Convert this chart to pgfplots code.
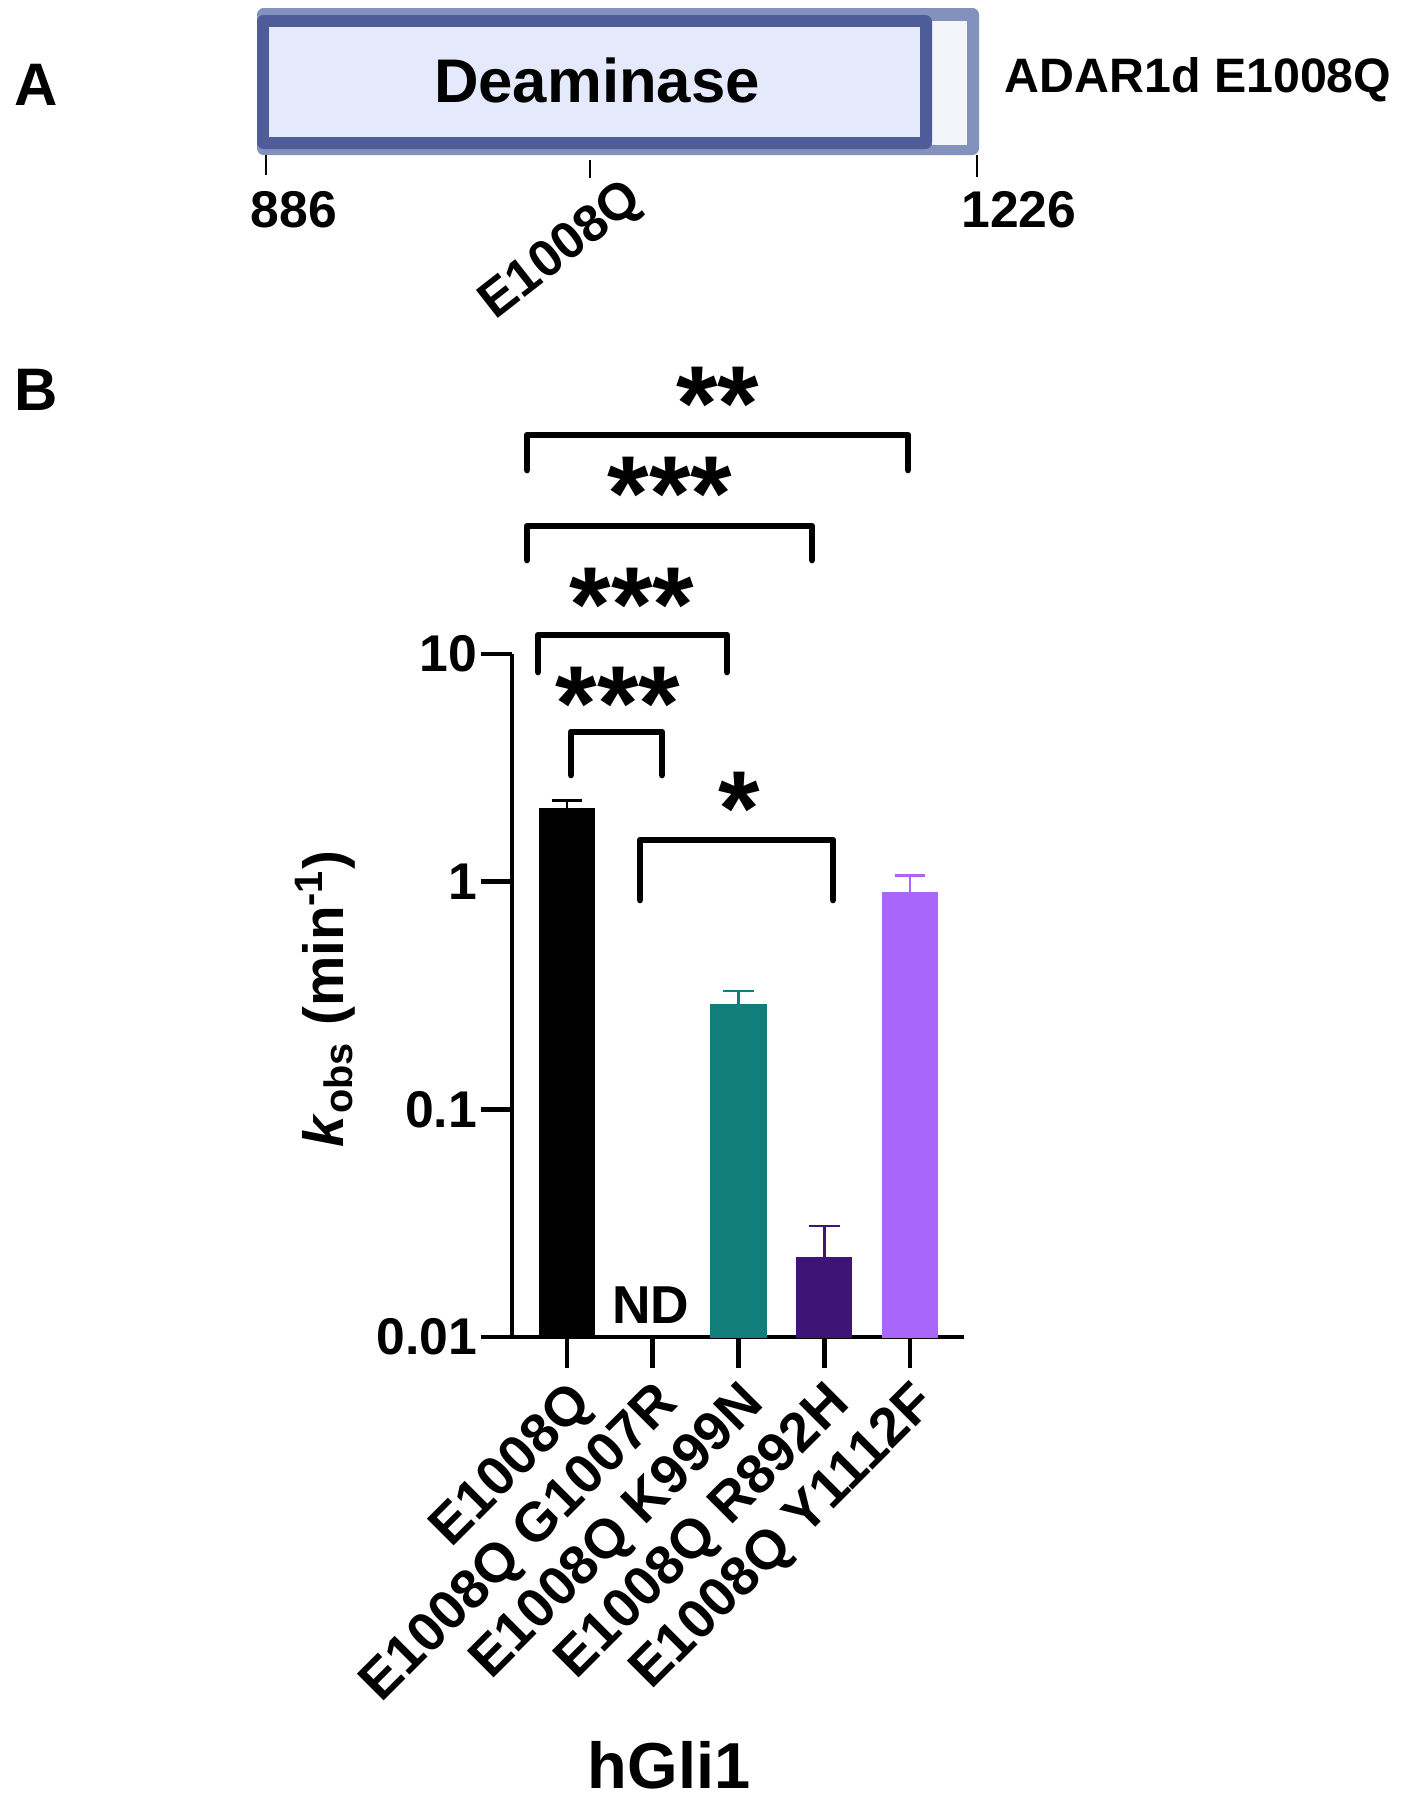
\documentclass[border=0pt]{standalone}
\usepackage{fontspec}
\setmainfont{Liberation Sans}
\usepackage{pgfplots}
\pgfplotsset{compat=1.18}
\definecolor{darkb}{HTML}{4E5C9A}
\definecolor{rim}{HTML}{8391BD}
\definecolor{innerfill}{HTML}{E4E9FB}
\definecolor{rightfill}{HTML}{F4F5FB}
\definecolor{teal}{HTML}{127E7C}
\definecolor{dpurple}{HTML}{3F1477}
\definecolor{lpurple}{HTML}{A866FA}
\begin{document}
\begin{tikzpicture}
\begin{scope}[x=0.3pt,y=-0.3pt]
\path[use as bounding box] (0,0) rectangle (1406,1800);
% ---------- panel A ----------
\fill[rim, rounded corners=2pt] (257,8) rectangle (979,155);
\fill[rightfill] (932,21) rectangle (967,145);
\fill[darkb, rounded corners=2pt] (257,15) rectangle (932,149);
\fill[innerfill] (269,27) rectangle (920,137);
\node[font=\fontsize{18.5}{22}\selectfont\bfseries, inner sep=0] at (597,80) {Deaminase};
\node[font=\fontsize{14.5}{17}\selectfont\bfseries, inner sep=0, anchor=west] at (1004,80) {ADAR1d E1008Q};
\node[font=\fontsize{18}{21}\selectfont\bfseries, inner sep=0] at (36,85) {A};
\node[font=\fontsize{18}{21}\selectfont\bfseries, inner sep=0] at (36,390) {B};
\draw[line width=0.6pt] (266,155) -- (266,175);
\draw[line width=0.6pt] (590,160) -- (590,178);
\draw[line width=0.6pt] (977,155) -- (977,177);
\node[font=\fontsize{15.5}{18}\selectfont\bfseries, inner sep=0] at (294,210) {886};
\node[font=\fontsize{15.5}{18}\selectfont\bfseries, inner sep=0] at (1019,210) {1226};
\node[font=\fontsize{15.5}{18}\selectfont\bfseries, inner sep=0, rotate=38] at (562,252) {E1008Q};
% ND
\node[font=\fontsize{16}{19}\selectfont\bfseries, inner sep=0, anchor=base] at (651,1323) {ND};
% brackets
\begin{scope}[line width=2pt, line cap=round, line join=round]
\draw (527,470) -- (527,435) -- (908,435) -- (908,470);
\draw (527,560) -- (527,526) -- (812,526) -- (812,560);
\draw (538,672) -- (538,635) -- (727,635) -- (727,672);
\draw (571,775) -- (571,732) -- (662,732) -- (662,775);
\draw (640,900) -- (640,840) -- (833,840) -- (833,900);
\end{scope}
\begin{scope}[every node/.style={font=\fontsize{32}{36}\selectfont\bfseries, inner sep=0, anchor=base}]
\node at (718,440) {**};
\node at (670,530) {***};
\node at (632,641) {***};
\node at (618,740) {***};
\node at (739,845) {*};
\end{scope}
% labels
\node[font=\fontsize{17}{20}\selectfont\bfseries, rotate=90, inner sep=0] at (325,999) {\textit{k}\textsubscript{obs} (min\textsuperscript{-1})};
\node[font=\fontsize{19.5}{23}\selectfont\bfseries, inner sep=0] at (669,1765) {hGli1};
\end{scope}
% ---------- panel B ----------
\begin{axis}[
  at={(153.6pt,-401.1pt)}, anchor=south west,
  scale only axis, width=135.6pt, height=204.9pt,
  ymode=log, log origin=infty,
  ymin=0.01, ymax=10, xmin=-0.64, xmax=4.63,
  axis x line*=bottom, axis y line*=left,
  axis line style={-, line width=1.4pt},
  ytick={0.01,0.1,1,10}, yticklabels={0.01,0.1,1,10},
  yminorticks=false,
  xtick={0,1,2,3,4},
  xticklabels={E1008Q, E1008Q G1007R, E1008Q K999N, E1008Q R892H, E1008Q Y1112F},
  tick align=outside, major tick length=9.3pt,
  tick style={line width=1.4pt, black},
  /pgf/number format/assume math mode=true,
  yticklabel style={font=\fontsize{15.5}{18}\selectfont\bfseries, inner sep=1pt},
  xticklabel style={font=\fontsize{16.5}{19}\selectfont\bfseries, rotate=45, anchor=north east, inner sep=2pt},
  ybar, bar width=16.5pt,
  clip=false,
]
\addplot[ybar, bar shift=0pt, fill=black, draw=black, line width=0.4pt,
  error bars/.cd, y dir=plus, y explicit, error mark=-,
  error bar style={line width=0.8pt, black},
  error mark options={rotate=90, line width=0.8pt, mark size=4.6pt, black}]
  coordinates {(0,2.1) +- (0,0.18)};
\addplot[ybar, bar shift=0pt, fill=teal, draw=teal, line width=0.4pt,
  error bars/.cd, y dir=plus, y explicit, error mark=-,
  error bar style={line width=0.8pt, teal},
  error mark options={rotate=90, line width=0.8pt, mark size=4.6pt, teal}]
  coordinates {(2,0.287) +- (0,0.044)};
\addplot[ybar, bar shift=0pt, fill=dpurple, draw=dpurple, line width=0.4pt,
  error bars/.cd, y dir=plus, y explicit, error mark=-,
  error bar style={line width=0.8pt, dpurple},
  error mark options={rotate=90, line width=0.8pt, mark size=4.6pt, dpurple}]
  coordinates {(3,0.0222) +- (0,0.0085)};
\addplot[ybar, bar shift=0pt, fill=lpurple, draw=lpurple, line width=0.4pt,
  error bars/.cd, y dir=plus, y explicit, error mark=-,
  error bar style={line width=0.8pt, lpurple},
  error mark options={rotate=90, line width=0.8pt, mark size=4.6pt, lpurple}]
  coordinates {(4,0.895) +- (0,0.17)};
\end{axis}
\end{tikzpicture}
\end{document}
